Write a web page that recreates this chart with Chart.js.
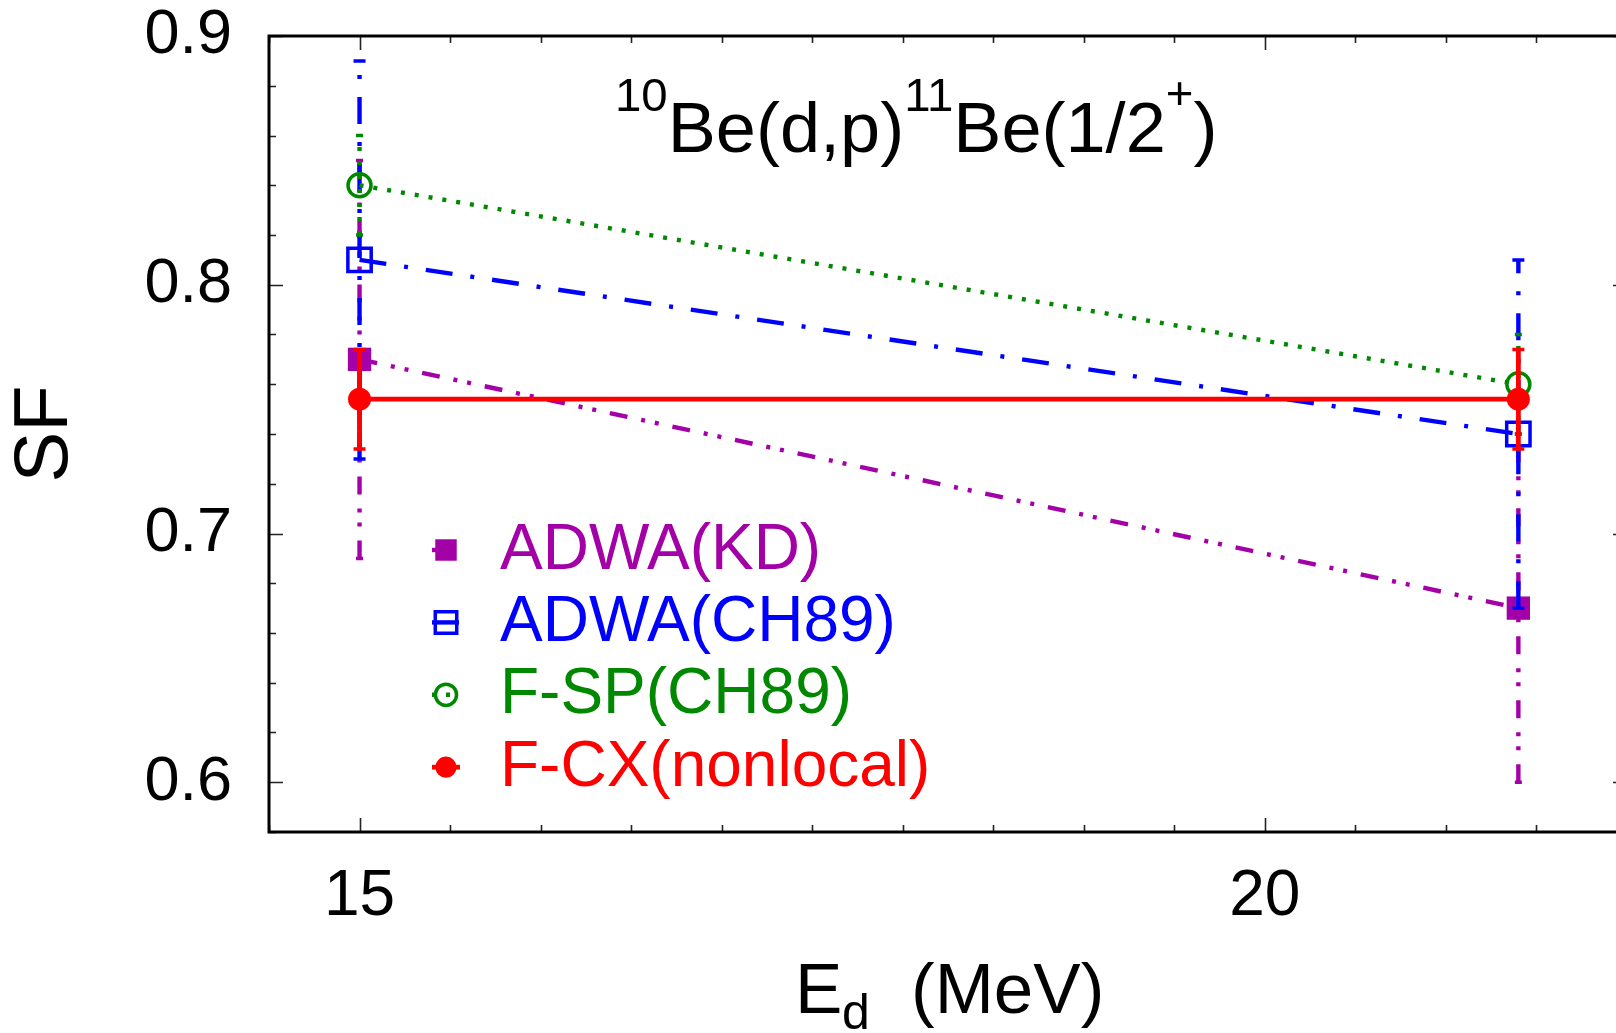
<!DOCTYPE html>
<html><head><meta charset="utf-8">
<script src="https://cdn.jsdelivr.net/npm/chart.js@4.4.0/dist/chart.umd.min.js"></script>
<style>html,body{margin:0;padding:0;background:#fff;overflow:hidden;width:1616px;height:1033px}</style>
</head><body>
<canvas id="c" width="1660" height="1033" style="display:block;width:1660px;height:1033px"></canvas>
<script>
// ---- data ----
const energies = [15, 21.4];
const sfKD   = [0.77, 0.67];  const errKD   = [0.08, 0.07];
const sfCH89 = [0.81, 0.74];  const errCH89 = [0.08, 0.07];
const sfSP   = [0.84, 0.76];  const errSP   = [0.02, 0.02];
const sfCX   = [0.754, 0.754]; const errCX  = [0.02, 0.02];
const seriesLabels = ['ADWA(KD)', 'ADWA(CH89)', 'F-SP(CH89)', 'F-CX(nonlocal)'];
const xTickValues = [15, 20];
const yTickValues = [0.6, 0.7, 0.8, 0.9];
const xMin = 14.5, xMax = 22, yMin = 0.58, yMax = 0.9;
const xMinorStep = 0.5, yMinorStep = 0.02;

const FONT = "'Liberation Sans', Arial, Helvetica, sans-serif";
const styles = [
  {color:'#a400a8', dash:[18,14,4,10,4,14], width:4.4, point:'rect',   radius:16.5, fill:true,  cap:7},
  {color:'#0000ff', dash:[27,18,4,18],      width:4.4, point:'rect',   radius:16.5, fill:false, cap:12},
  {color:'#008800', dash:[4,10],            width:4.4, point:'circle', radius:11.5, fill:false, cap:7},
  {color:'#ff0000', dash:[],                width:4.8, point:'circle', radius:11.5, fill:true,  cap:12}
];
const values = [sfKD, sfCH89, sfSP, sfCX];
const errs = [errKD, errCH89, errSP, errCX];

const datasets = values.map((v, i) => {
  const s = styles[i];
  return {
    label: seriesLabels[i],
    data: energies.map((e, j) => ({x: e, y: v[j]})),
    errors: errs[i],
    borderColor: s.color,
    borderDash: s.dash,
    borderWidth: s.width,
    pointStyle: s.point,
    pointRadius: s.radius,
    pointBorderWidth: s.fill ? 0 : 3.5,
    pointBackgroundColor: s.fill ? s.color : 'rgba(0,0,0,0)',
    pointBorderColor: s.color,
    tension: 0,
    fill: false,
    order: 4 - i
  };
});

// frame + inward ticks (gnuplot style)
const framePlugin = {
  id: 'frame',
  beforeDatasetsDraw(chart) {
    const ctx = chart.ctx, {left, right, top, bottom} = chart.chartArea;
    const xs = chart.scales.x, ys = chart.scales.y;
    ctx.save();
    ctx.strokeStyle = '#222'; ctx.lineWidth = 1.6;
    ctx.beginPath();
    const nx = Math.round((xMax - xMin) / xMinorStep);
    for (let k = 0; k <= nx; k++) {
      const v = xMin + k * xMinorStep;
      const major = xTickValues.some(t => Math.abs(t - v) < 1e-6) || Math.abs(v % 5) < 1e-6;
      const L = major ? 14 : 7;
      const px = Math.round(xs.getPixelForValue(v)) + 0.5;
      ctx.moveTo(px, bottom); ctx.lineTo(px, bottom - L);
      ctx.moveTo(px, top); ctx.lineTo(px, top + L);
    }
    const ny = Math.round((yMax - yMin) / yMinorStep);
    for (let k = 0; k <= ny; k++) {
      const v = yMin + k * yMinorStep;
      const major = yTickValues.some(t => Math.abs(t - v) < 1e-6);
      const L = major ? 14 : 7;
      const py = Math.round(ys.getPixelForValue(v)) + 0.5;
      ctx.moveTo(left, py); ctx.lineTo(left + L, py);
      ctx.moveTo(right, py); ctx.lineTo(right - L, py);
    }
    ctx.stroke();
    ctx.strokeStyle = '#000'; ctx.lineWidth = 3;
    ctx.strokeRect(left, top, right - left, bottom - top);
    ctx.restore();
  }
};

// error bars drawn just before each dataset
const errorBarPlugin = {
  id: 'errbars',
  beforeDatasetDraw(chart, args) {
    const ds = chart.data.datasets[args.index];
    const s = styles[args.index];
    const ctx = chart.ctx, xs = chart.scales.x, ys = chart.scales.y;
    ctx.save();
    ctx.strokeStyle = s.color;
    ds.data.forEach((p, j) => {
      const e = ds.errors[j];
      const px = xs.getPixelForValue(p.x);
      const yLo = ys.getPixelForValue(p.y - e);
      const yHi = ys.getPixelForValue(p.y + e);
      ctx.lineWidth = s.width;
      ctx.setLineDash(s.dash);
      ctx.beginPath(); ctx.moveTo(px, yLo); ctx.lineTo(px, yHi); ctx.stroke();
      ctx.setLineDash([]);
      ctx.lineWidth = 3.5;
      ctx.beginPath();
      ctx.moveTo(px - s.cap / 2, yLo); ctx.lineTo(px + s.cap / 2, yLo);
      ctx.moveTo(px - s.cap / 2, yHi); ctx.lineTo(px + s.cap / 2, yHi);
      ctx.stroke();
    });
    ctx.restore();
  }
};

function drawMarker(ctx, s, x, y) {
  ctx.beginPath();
  if (s.point === 'rect') {
    const h = s.radius * Math.SQRT1_2;
    ctx.rect(x - h, y - h, 2 * h, 2 * h);
  } else {
    ctx.arc(x, y, s.radius, 0, Math.PI * 2);
  }
  if (s.fill) { ctx.fillStyle = s.color; ctx.fill(); }
  else { ctx.strokeStyle = s.color; ctx.lineWidth = 3.5; ctx.stroke(); }
}

const textPlugin = {
  id: 'texts',
  afterDraw(chart) {
    const ctx = chart.ctx;
    ctx.save();
    // legend
    const lx = 446, ly0 = 550, lstep = 72.4, tx = 500;
    chart.data.datasets.forEach((ds, i) => {
      const s = styles[i];
      const y = ly0 + i * lstep;
      ctx.save();
      ctx.strokeStyle = s.color; ctx.lineWidth = s.width; ctx.setLineDash(s.dash);
      ctx.beginPath(); ctx.moveTo(lx - 14, y); ctx.lineTo(lx + 14, y); ctx.stroke();
      ctx.setLineDash([]);
      drawMarker(ctx, Object.assign({}, s, {radius: s.radius * 0.92}), lx, y);
      ctx.restore();
      ctx.fillStyle = s.color;
      ctx.font = '64px ' + FONT;
      ctx.textAlign = 'left'; ctx.textBaseline = 'middle';
      ctx.fillText(ds.label, tx, y + 1);
    });
    // title with superscripts
    ctx.fillStyle = '#000'; ctx.textAlign = 'left'; ctx.textBaseline = 'alphabetic';
    ctx.save();
    ctx.translate(615, 0); ctx.scale(1.03, 1);
    let x = 0;
    const parts = [['10', 46, 111], ['Be(d,p)', 70, 152], ['11', 46, 111], ['Be(1/2', 70, 152], ['+', 46, 109], [')', 70, 152]];
    for (const [t, sz, yy] of parts) {
      ctx.font = sz + 'px ' + FONT;
      ctx.fillText(t, x, yy);
      x += ctx.measureText(t).width;
    }
    ctx.restore();
    // x-axis title with subscript
    ctx.font = '71px ' + FONT; ctx.fillText('E', 795, 1013);
    ctx.font = '50px ' + FONT; ctx.fillText('d', 842, 1029);
    ctx.font = '71px ' + FONT; ctx.fillText('(MeV)', 911, 1013);
    ctx.restore();
  }
};

function zeroPad(s) { s.paddingLeft = 0; s.paddingRight = 0; s.paddingTop = 0; s.paddingBottom = 0; }

new Chart(document.getElementById('c'), {
  type: 'line',
  data: { datasets },
  options: {
    responsive: false, animation: false, events: [],
    layout: { padding: { left: 0, top: 36, right: 33, bottom: 0 } },
    plugins: { legend: { display: false }, tooltip: { enabled: false } },
    scales: {
      x: {
        type: 'linear', min: xMin, max: xMax,
        grid: { display: false, drawTicks: false }, border: { display: false },
        afterBuildTicks: s => { s.ticks = xTickValues.map(v => ({ value: v })); },
        afterFit: s => { s.height = 201; zeroPad(s); },
        ticks: { font: { family: FONT, size: 64 }, color: '#000', padding: 27, maxRotation: 0, autoSkip: false,
                 callback: v => String(v) }
      },
      y: {
        type: 'linear', min: yMin, max: yMax,
        grid: { display: false, drawTicks: false }, border: { display: false },
        afterBuildTicks: s => { s.ticks = yTickValues.map(v => ({ value: v })); },
        afterFit: s => { s.width = 269; zeroPad(s); },
        ticks: { font: { family: FONT, size: 63 }, color: '#000', padding: 37,
                 callback: v => Number(v).toFixed(1) },
        title: { display: true, text: 'SF', font: { family: FONT, size: 76 }, color: '#000', padding: 0 }
      }
    }
  },
  plugins: [framePlugin, errorBarPlugin, textPlugin]
});
</script>
</body></html>
